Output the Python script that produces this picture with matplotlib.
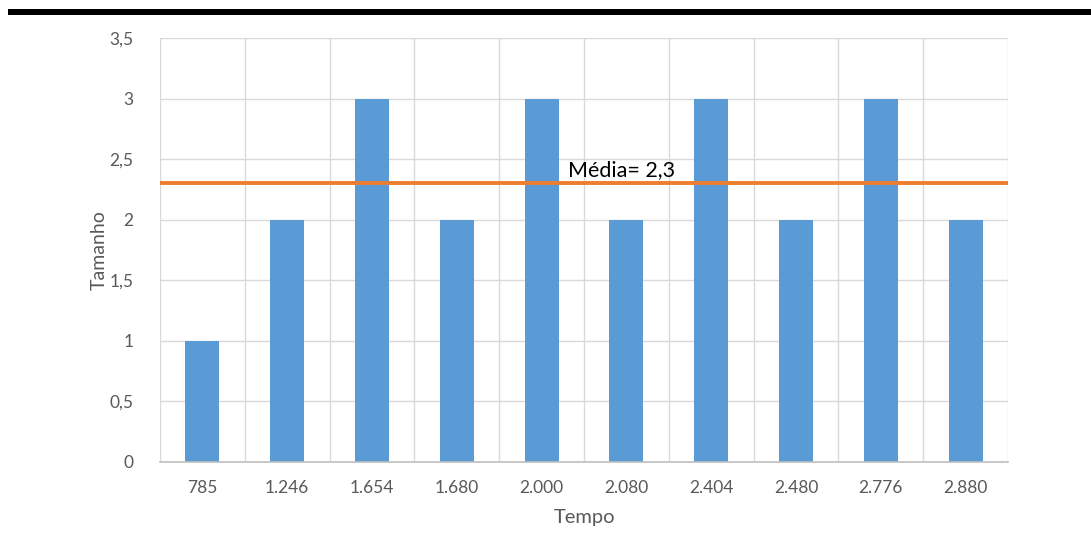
import matplotlib
matplotlib.use("Agg")
import matplotlib.pyplot as plt
from matplotlib.patches import Rectangle
from matplotlib.ticker import FixedLocator, FuncFormatter
import numpy as np

plt.rcParams['font.family'] = ['Lato', 'DejaVu Sans']

tempo = ["785", "1.246", "1.654", "1.680", "2.000", "2.080", "2.404", "2.480", "2.776", "2.880"]
tamanho = [1, 2, 3, 2, 3, 2, 3, 2, 3, 2]
y_ticks = [0, 0.5, 1, 1.5, 2, 2.5, 3, 3.5]

media = float(np.mean(tamanho))

W, H = 1091, 552
fig = plt.figure(figsize=(W / 100, H / 100), dpi=100)
ax = fig.add_axes([160 / W, (H - 462) / H, (1008 - 160) / W, (462 - 38) / H])

x = np.arange(len(tempo))
ax.bar(x, tamanho, width=0.4, color="#5B9BD5", zorder=2)

ax.set_xlim(-0.5, len(tempo) - 0.5)
ax.set_ylim(0, 3.5)

# category separators and value gridlines
ax.xaxis.set_minor_locator(FixedLocator(np.arange(-0.5, len(tempo), 1.0)))
ax.grid(True, which="minor", axis="x", color="#D9D9D9", linewidth=1.0, zorder=0)
ax.set_yticks(y_ticks)
ax.grid(True, which="major", axis="y", color="#D9D9D9", linewidth=1.0, zorder=0)
ax.set_xticks(x)
ax.set_xticklabels(tempo)
ax.yaxis.set_major_formatter(FuncFormatter(lambda v, p: (f"{v:g}").replace(".", ",")))

ax.tick_params(which="both", length=0)
ax.tick_params(axis="x", pad=13, labelsize=12.5, labelcolor="#595959")
ax.tick_params(axis="y", pad=19, labelsize=12.5, labelcolor="#595959")
for s in ["top", "right", "left"]:
    ax.spines[s].set_visible(False)
ax.spines["bottom"].set_color("#BFBFBF")
ax.spines["bottom"].set_linewidth(1.2)

# mean line
ax.axhline(media, color="#ED7D31", linewidth=2.8, zorder=3)
ax.text(4.31, media + 0.03, "Média= " + f"{media:.1f}".replace(".", ","),
        fontsize=15.5, color="black", ha="left", va="bottom", zorder=4)

ax.set_xlabel("Tempo", fontsize=14.5, color="#595959", labelpad=9)
ax.set_ylabel("Tamanho", fontsize=14, color="#595959", labelpad=1)

# heavy rule across the top of the page
fig.add_artist(Rectangle((8 / W, (H - 15) / H), 1 - 8 / W, 6 / H,
                         transform=fig.transFigure, color="black", lw=0))

fig.savefig("out.png", dpi=100)
